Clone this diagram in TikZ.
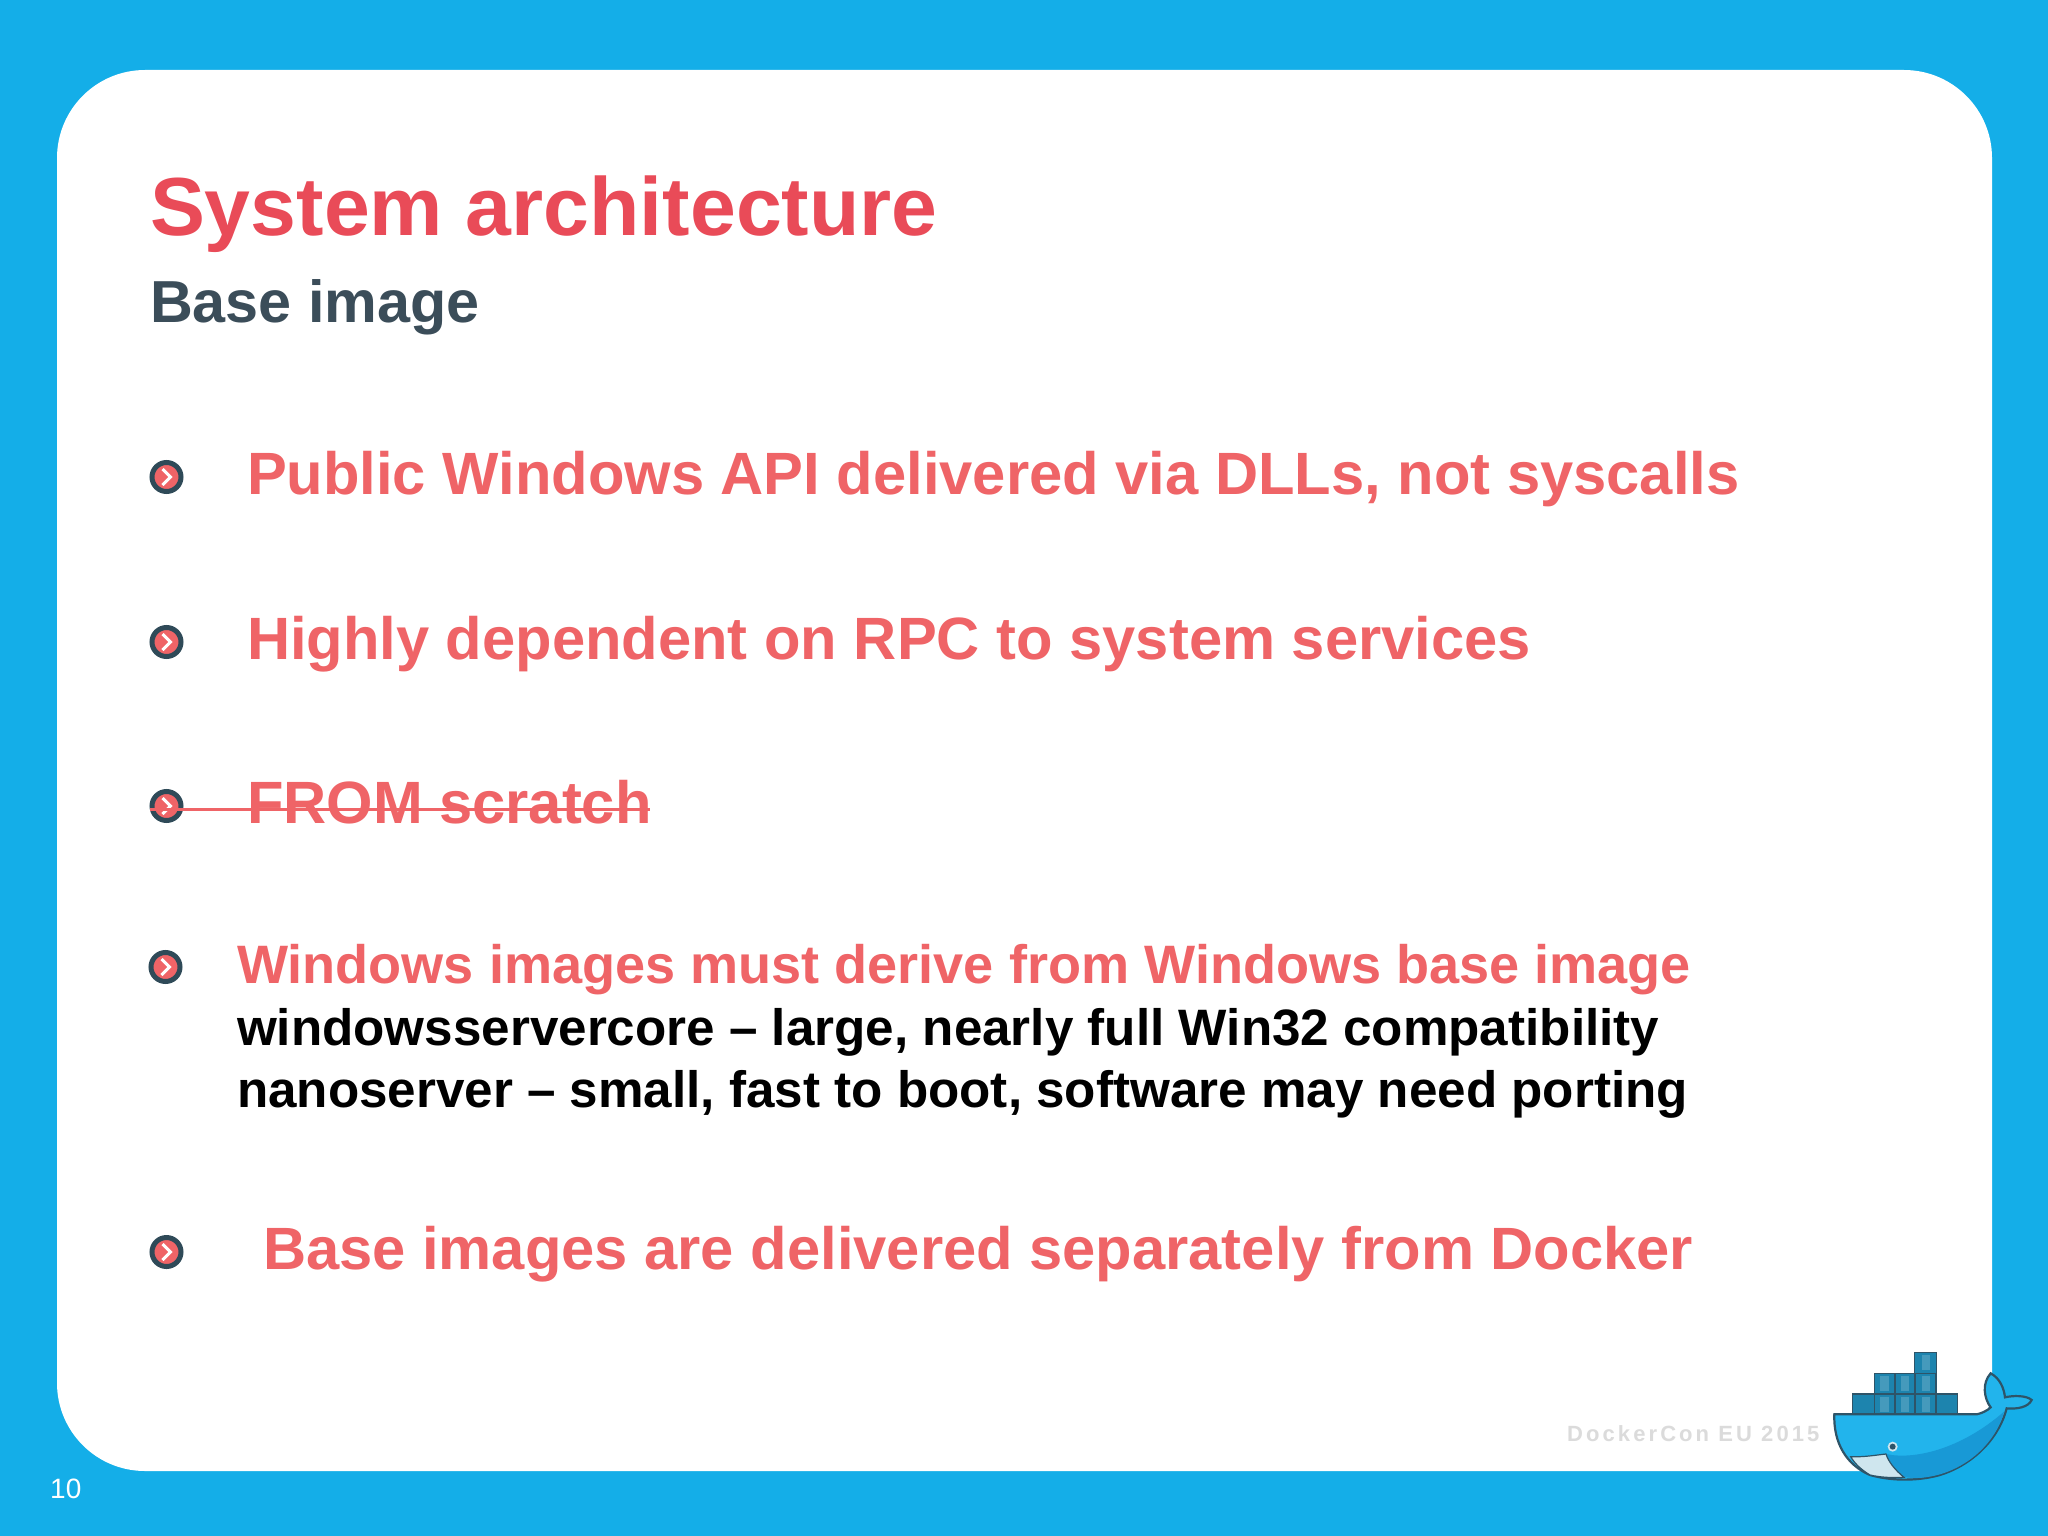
\documentclass[tikz,border=0pt]{standalone}
\usepackage{fontspec}
\setmainfont{Liberation Sans}
\definecolor{bg}{HTML}{14AEE8}
\definecolor{titlered}{HTML}{E94B58}
\definecolor{bulletred}{HTML}{EF6467}
\definecolor{subgrey}{HTML}{3B4D59}
\definecolor{ringdark}{HTML}{2F4A58}
\definecolor{boxmid}{HTML}{1D84AE}
\definecolor{wlight}{HTML}{22B4EC}
\definecolor{wdark}{HTML}{1899D6}
\definecolor{wline}{HTML}{2E5468}
\definecolor{belly}{HTML}{CFE6EE}
\tikzset{
  x=1pt,y=-1pt,
  txt/.style={anchor=base west,inner sep=0pt,outer sep=0pt,font=\bfseries\fontsize{#1}{#1}\selectfont},
  bul/.style={txt=59.7,text=bulletred},
  blk/.style={txt=51.2,text=black},
  cont/.style={draw=wline,line width=1.6pt,fill=boxmid},
}
\newcommand{\bulletmark}[3]{%
  \node[circle,draw=ringdark,line width=5pt,fill=bulletred,minimum size=29pt,inner sep=0pt] (#3) at (#1,#2) {};
  \draw[white,line width=3pt] (#1-4,#2-8) -- (#1+4,#2) -- (#1-4,#2+8);
}
\begin{document}
\begin{tikzpicture}
\useasboundingbox (0,0) rectangle (2048,1536);
\fill[bg] (0,0) rectangle (2048,1536);
\fill[white,rounded corners=88pt] (57,70) rectangle (1992,1471);

\node[txt=82.4,text=titlered] (title) at (150,235) {System architecture};
\node[txt=59.3,text=subgrey] (sub) at (150,322) {Base image};

\bulletmark{166.5}{477}{b1}
\node[bul] (t1) at (247,494) {Public Windows API delivered via DLLs, not syscalls};
\bulletmark{166.5}{642}{b2}
\node[bul] (t2) at (247,659) {Highly dependent on RPC to system services};
\bulletmark{166.5}{806}{b3}
\node[bul] (t3) at (247,823) {FROM scratch};
\draw[bulletred,line width=3pt] (150,809) -- (650,809);
\bulletmark{165.5}{967}{b4}
\node[txt=54.1,text=bulletred] (t4) at (237,983) {Windows images must derive from Windows base image};
\node[blk] (t5) at (237,1045) {windowsservercore – large, nearly full Win32 compatibility};
\node[blk] (t6) at (237,1107) {nanoserver – small, fast to boot, software may need porting};
\bulletmark{166.5}{1252}{b5}
\node[bul] (t7) at (263,1269) {Base images are delivered separately from Docker};

\node[anchor=base west,inner sep=0pt,text=white,font=\fontsize{28}{28}\selectfont] (num) at (50,1498) {10};
\node[anchor=base west,inner sep=0pt,text=black!14,font=\bfseries\fontsize{22}{22}\selectfont] (conf) at (1567,1441) {\addfontfeature{LetterSpace=14}DockerCon EU 2015};

% whale: coordinates of a 3x crop at (1780,1320)
\begin{scope}[shift={(1780,1320)},x=0.3333pt,y=-0.3333pt]
  \foreach \a/\b/\c/\d in {218/222/283/283,283/222/345/283,345/222/405/283,405/222/468/283,468/222/532/283,283/160/345/222,345/160/405/222,405/160/468/222,403/97/470/160}
    {\draw[cont] (\a,\b) rectangle (\c,\d);}
  \foreach \a/\b in {300/222,362/160,362/222,425/97,425/222,300/160,425/160}
    {\fill[white,opacity=.18] (\a,\b+8) rectangle (\a+26,\b+54);}
  \path[draw=wline,line width=2.2pt,fill=wlight]
    (163,283) -- (590,283)
    .. controls (605,280) and (622,272) .. (632,262)
    .. controls (612,235) and (605,190) .. (632,160)
    .. controls (660,175) and (672,205) .. (675,232)
    .. controls (700,226) and (740,226) .. (755,240)
    .. controls (745,262) and (710,268) .. (680,265)
    .. controls (660,345) and (590,430) .. (480,465)
    .. controls (420,482) and (340,485) .. (270,465)
    .. controls (200,435) and (160,370) .. (163,283) -- cycle;
  \fill[wdark]
    (318,402) .. controls (400,420) and (540,390) .. (672,275)
    .. controls (655,345) and (590,430) .. (480,463)
    .. controls (440,474) and (400,478) .. (372,470)
    .. controls (345,450) and (325,425) .. (318,402) -- cycle;
  \path[fill=belly,draw=wline,line width=1.2pt]
    (212,410) .. controls (250,412) and (290,405) .. (318,402)
    .. controls (325,425) and (345,450) .. (372,472)
    .. controls (335,474) and (300,472) .. (270,465)
    .. controls (245,450) and (225,432) .. (212,410) -- cycle;
  \fill[belly] (338,380) circle (15);
  \fill[wline] (338,380) circle (9);
\end{scope}
\end{tikzpicture}
\end{document}
